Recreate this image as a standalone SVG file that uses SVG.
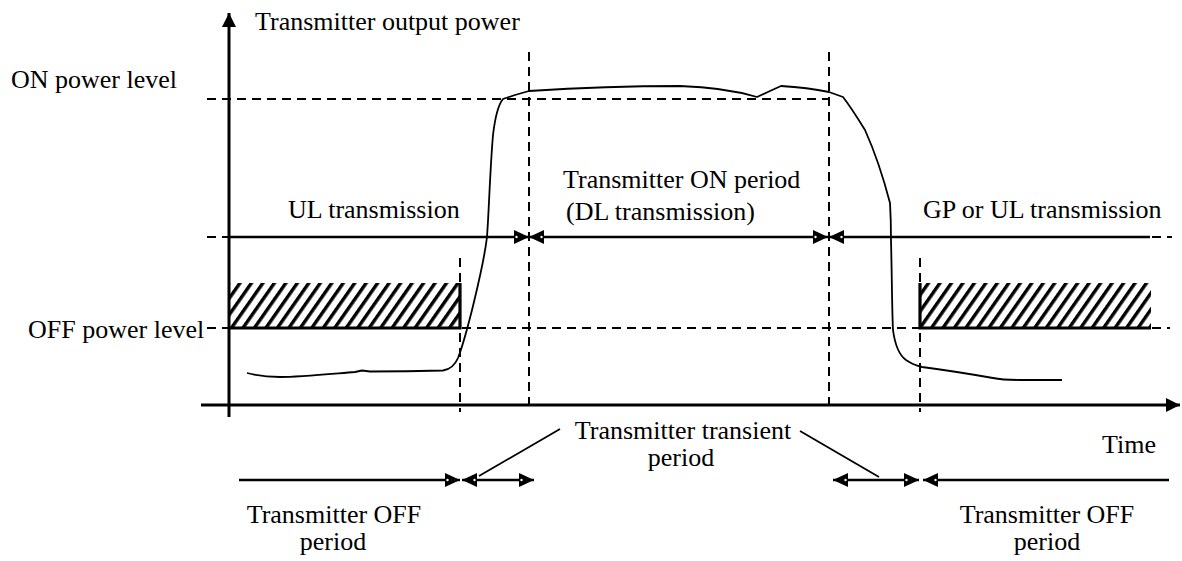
<svg xmlns="http://www.w3.org/2000/svg" width="1182" height="561" viewBox="0 0 1182 561">
  <style>
    text { font-family: "Liberation Serif", "Times New Roman", serif; font-size: 26px; fill: #000; }
    .dash { stroke: #000; stroke-width: 2; stroke-dasharray: 9 6; fill: none; }
    .solid { stroke: #000; stroke-width: 2.6; fill: none; }
    .axis { stroke: #000; stroke-width: 3; fill: none; }
    .thin { stroke: #000; stroke-width: 1.8; fill: none; }
    .curve { stroke: #000; stroke-width: 1.8; fill: none; stroke-linejoin: round; }
    .edge { stroke: #000; stroke-width: 3.2; fill: none; }
  </style>
  <defs>
    <marker id="arr" viewBox="0 0 15 14" refX="15" refY="7" markerWidth="15" markerHeight="14" markerUnits="userSpaceOnUse" orient="auto-start-reverse">
      <path d="M0,0 L15,7 L0,14 Z" fill="#000"/>
      <circle cx="2.5" cy="7" r="1.2" fill="#fff"/>
    </marker>
    <marker id="axarr" viewBox="0 0 14 14" refX="14" refY="7" markerWidth="14" markerHeight="14" markerUnits="userSpaceOnUse" orient="auto">
      <path d="M0,0 L14,7 L0,14 Z" fill="#000"/>
    </marker>
    <pattern id="hatch" patternUnits="userSpaceOnUse" width="9.4" height="10" patternTransform="rotate(35)">
      <rect x="0" y="0" width="3.4" height="10" fill="#000"/>
    </pattern>
  </defs>
  <rect width="1182" height="561" fill="#fff"/>

  <g id="boxes">
    <rect x="229" y="283" width="231" height="45" fill="url(#hatch)"/>
    <rect x="920" y="283" width="231" height="45" fill="url(#hatch)"/>
  </g>

  <g id="guides">
    <line class="dash" x1="207" y1="99" x2="829" y2="99"/>
    <line class="dash" x1="207" y1="237" x2="1172" y2="237"/>
    <line class="dash" x1="207" y1="328" x2="1170" y2="328"/>
    <line class="dash" x1="460" y1="258" x2="460" y2="412"/>
    <line class="dash" x1="529" y1="52" x2="529" y2="408"/>
    <line class="dash" x1="829" y1="52" x2="829" y2="408"/>
    <line class="dash" x1="920" y1="258" x2="920" y2="412"/>
  </g>

  <g id="box-edges">
    <path class="edge" d="M229,328 H460 V283"/>
    <path class="edge" d="M920,283 V328 H1151"/>
  </g>

  <g id="axes">
    <line class="axis" x1="229" y1="417" x2="229" y2="13" marker-end="url(#axarr)"/>
    <line class="axis" x1="201" y1="405" x2="1180" y2="405" marker-end="url(#axarr)"/>
  </g>

  <g id="power-curve">
    <path class="curve" d="M247,373 C258,376 268,377 280,377 C300,377 330,374 355,372 L362,370.5 L370,371.5 C395,371.5 425,371 443,370.5 C450,369.5 455,365 458,358 C463,345 467,330 472,310 C478,285 484,262 487,237 C489,210 490,170 493,135 C495,118 498,105 503,99 L515,95 L529,91 C560,89 620,86 680,86 C715,87 740,92 757,97 L770,91 L781,86 C800,87 815,89 829,92 L843,97 C850,106 857,117 865,130 C874,150 884,180 890,203 C891,220 891,235 891,240 C892,280 892,310 893,330 C895,345 899,355 906,360 C912,364 917,366 922,367 C945,370 970,374 993,378 C1000,379.5 1010,380 1020,380 L1062,380"/>
  </g>

  <g id="connectors">
    <line class="solid" x1="229" y1="237" x2="529" y2="237" marker-end="url(#arr)"/>
    <line class="solid" x1="529" y1="237" x2="828" y2="237" marker-start="url(#arr)" marker-end="url(#arr)"/>
    <line class="solid" x1="829" y1="237" x2="1150" y2="237" marker-start="url(#arr)"/>
    <line class="solid" x1="239" y1="480" x2="460" y2="480" marker-end="url(#arr)"/>
    <line class="solid" x1="462" y1="480" x2="534" y2="480" marker-start="url(#arr)" marker-end="url(#arr)"/>
    <line class="solid" x1="833" y1="480" x2="919" y2="480" marker-start="url(#arr)" marker-end="url(#arr)"/>
    <line class="solid" x1="923" y1="480" x2="1169" y2="480" marker-start="url(#arr)"/>
    <line class="thin" x1="560" y1="429" x2="479" y2="476"/>
    <line class="thin" x1="800" y1="431" x2="879" y2="477"/>
  </g>

  <g id="labels">
    <text x="255" y="30">Transmitter output power</text>
    <text x="11" y="88">ON power level</text>
    <text x="28" y="338">OFF power level</text>
    <text x="288" y="218">UL transmission</text>
    <text x="563" y="188">Transmitter ON period</text>
    <text x="566" y="220">(DL transmission)</text>
    <text x="923" y="218">GP or UL transmission</text>
    <text x="683" y="439" text-anchor="middle">Transmitter transient</text>
    <text x="681" y="466" text-anchor="middle">period</text>
    <text x="1102" y="453">Time</text>
    <text x="334" y="523" text-anchor="middle">Transmitter OFF</text>
    <text x="333" y="550" text-anchor="middle">period</text>
    <text x="1047" y="523" text-anchor="middle">Transmitter OFF</text>
    <text x="1047" y="550" text-anchor="middle">period</text>
  </g>
</svg>
